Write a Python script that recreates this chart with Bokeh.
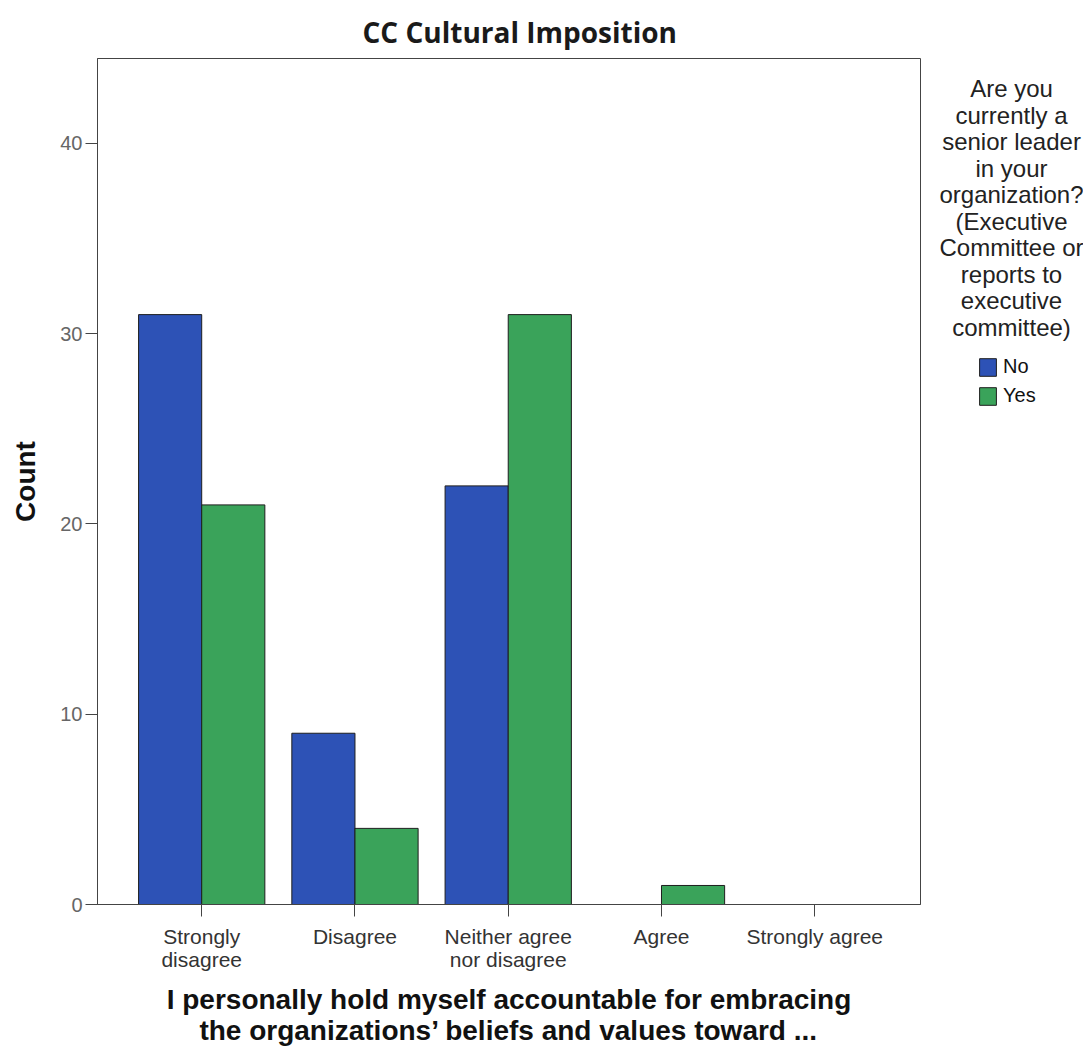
from bokeh.plotting import figure
from bokeh.layouts import row
from bokeh.models import Range1d, FixedTicker, Label, Legend, LegendItem, ColumnDataSource
from bokeh.embed import file_html
from bokeh.resources import INLINE

# ---- data ----
categories = ["Strongly\ndisagree", "Disagree", "Neither agree\nnor disagree", "Agree", "Strongly agree"]
no_counts = [31, 9, 22, 0, 0]
yes_counts = [21, 4, 31, 1, 0]
series_names = ["No", "Yes"]
series_colors = ["#2d52b6", "#3aa35a"]
y_ticks = [0, 10, 20, 30, 40]
legend_title_lines = ["Are you", "currently a", "senior leader", "in your", "organization?",
                      "(Executive", "Committee or", "reports to", "executive", "committee)"]
title_text = "CC Cultural Imposition"
x_title = "I personally hold myself accountable for embracing\nthe organizations\u2019 beliefs and values toward ..."
y_title = "Count"

W_MAIN, W_LEG, H = 925, 158, 1048
bar_w = 0.412
positions = list(range(len(categories)))

p = figure(width=W_MAIN, height=H, output_backend="svg", toolbar_location=None,
           x_range=Range1d(-0.68, 4.69), y_range=Range1d(0, 44.46),
           min_border_left=97, min_border_right=5, min_border_top=58, min_border_bottom=143)

src_no = ColumnDataSource(dict(x=[i - bar_w / 2 for i in positions], top=no_counts))
src_yes = ColumnDataSource(dict(x=[i + bar_w / 2 for i in positions], top=yes_counts))
p.vbar(x="x", top="top", bottom=0, width=bar_w, source=src_no,
       fill_color=series_colors[0], line_color="#1e1e1e", line_width=1)
p.vbar(x="x", top="top", bottom=0, width=bar_w, source=src_yes,
       fill_color=series_colors[1], line_color="#1e1e1e", line_width=1)

# title
p.title.text = title_text
p.title.align = "left"
p.title.offset = 265
p.title.text_font = "Open Sans"
p.title.text_font_size = "28px"
p.title.text_font_style = "bold"
p.title.text_color = "#1a1a1a"
p.title.text_line_height = 1.0
p.title.standoff = 16

# grids/outline
p.xgrid.visible = False
p.ygrid.visible = False
p.outline_line_color = "#444444"
p.outline_line_width = 1

# y axis
p.yaxis.ticker = FixedTicker(ticks=y_ticks)
p.yaxis.minor_tick_line_color = None
p.yaxis.major_tick_out = 12
p.yaxis.major_tick_in = 0
p.yaxis.major_label_standoff = 3
p.yaxis.major_label_text_font = "Liberation Sans"
p.yaxis.major_label_text_font_size = "20px"
p.yaxis.major_label_text_color = "#666666"
p.yaxis.axis_line_color = "#444444"
p.yaxis.major_tick_line_color = "#444444"
p.yaxis.axis_label = y_title
p.yaxis.axis_label_text_font = "Liberation Sans"
p.yaxis.axis_label_text_font_size = "28px"
p.yaxis.axis_label_text_font_style = "bold"
p.yaxis.axis_label_text_color = "#111111"
p.yaxis.axis_label_standoff = 16

# x axis
p.xaxis.ticker = FixedTicker(ticks=positions)
p.xaxis.major_label_overrides = {i: c for i, c in zip(positions, categories)}
p.xaxis.minor_tick_line_color = None
p.xaxis.major_tick_out = 12
p.xaxis.major_tick_in = 0
p.xaxis.major_label_standoff = 8
p.xaxis.major_label_text_font = "Liberation Sans"
p.xaxis.major_label_text_font_size = "21px"
p.xaxis.major_label_text_color = "#333333"
p.xaxis.major_label_text_line_height = 1.0
p.xaxis.axis_line_color = "#444444"
p.xaxis.major_tick_line_color = "#444444"
p.xaxis.axis_label = x_title
p.xaxis.axis_label_text_font = "Liberation Sans"
p.xaxis.axis_label_text_font_size = "28px"
p.xaxis.axis_label_text_font_style = "bold"
p.xaxis.axis_label_text_color = "#111111"
p.xaxis.axis_label_text_line_height = 1.0
p.xaxis.axis_label_standoff = 10

# ---- legend panel (separate figure to the right of the chart) ----
lg = figure(width=W_LEG, height=H, output_backend="svg", toolbar_location=None,
            x_range=Range1d(0, W_LEG), y_range=Range1d(H, 0),
            min_border=0, x_axis_location=None, y_axis_location=None)
lg.frame_align = False
lg.title.visible = False
lg.xgrid.visible = False
lg.ygrid.visible = False
lg.outline_line_color = None

for i, line in enumerate(legend_title_lines):
    lg.add_layout(Label(x=86, y=88 + i * 26.5, text=line, text_align="center",
                        text_baseline="middle", text_font="Liberation Sans",
                        text_font_size="24px", text_color="#222222"))

# proxy renderers with no drawable data; they only supply the legend swatches
proxies = []
for c in series_colors:
    proxies.append(lg.vbar(x=[float("nan")], top=[float("nan")], bottom=float("nan"), width=1,
                           fill_color=c, line_color="#1e1e1e", line_width=1))

legend = Legend(items=[LegendItem(label=n, renderers=[r]) for n, r in zip(series_names, proxies)],
                location=(52, 641), padding=0, margin=0, border_line_color=None,
                background_fill_alpha=0, glyph_width=21, glyph_height=22, label_height=22,
                label_text_font="Liberation Sans", label_text_font_size="20px",
                label_text_color="#111111", spacing=6, label_standoff=5)
lg.add_layout(legend)

layout = row(p, lg, spacing=0)
open("out.html", "w").write(file_html(layout, INLINE))
